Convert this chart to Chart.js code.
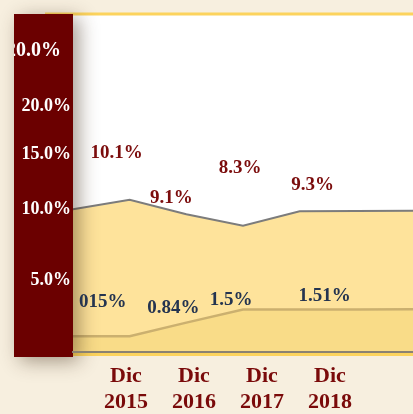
<!DOCTYPE html>
<html>
<head>
<meta charset="utf-8">
<script src="https://cdn.jsdelivr.net/npm/chart.js@4.4.1/dist/chart.umd.min.js"></script>
<style>
  html, body { margin: 0; padding: 0; background: #f7efdf; overflow: hidden; }
  canvas { display: block; }
</style>
</head>
<body>
<canvas id="rateChart" width="413" height="414"></canvas>
<script>
// point slots along the lines (first one is the lead-in, last two the tail)
const periods = ['', 'Dic 2015', 'Dic 2016', 'Dic 2017', 'Dic 2018', '', ''];
const mainRate = [9.45, 10.1, 9.1, 8.3, 9.3, 9.32, 9.35];
const minorRate = [0.15, 0.15, 0.84, 1.5, 1.51, 1.51, 1.52];
const mainText = ['', '10.1%', '9.1%', '8.3%', '9.3%', '', ''];
const minorText = ['', '015%', '0.84%', '1.5%', '1.51%', '', ''];

// axis labels
const xTickLabels = ['', ['Dic', '2015'], ['Dic', '2016'], ['Dic', '2017'], ['Dic', '2018'], ''];
const yTickValues = [4.5, 9.45, 13.25, 16.6, 20.5];
const yTickLabels = ['5.0%', '10.0%', '15.0%', '20.0%', '20.0%'];

// label nudges from their point (px)
const mainTagShift = [null, [-13, -47], [-15, -16], [-3, -58], [13, -26], null, null];
const minorTagShift = [null, [-27, -34], [-13, -15], [-12, -9], [25, -13], null, null];

const SERIF = '"Liberation Serif", "Times New Roman", serif';
Chart.defaults.font.family = SERIF;

const plotBackdrop = {
    id: 'plotBackdrop',
    beforeDraw(chart) {
        const { ctx, chartArea: a } = chart;
        const x0 = a.left - 28;
        ctx.save();
        ctx.fillStyle = '#ffffff';
        ctx.fillRect(x0, a.top, a.right - x0, a.bottom - a.top);
        ctx.strokeStyle = '#fcd35d';
        ctx.lineWidth = 3;
        ctx.beginPath();
        ctx.moveTo(x0, a.top); ctx.lineTo(a.right, a.top);
        ctx.moveTo(x0, a.bottom + 2.5); ctx.lineTo(a.right, a.bottom + 2.5);
        ctx.stroke();
        ctx.restore();
    }
};

const axisPanel = {
    id: 'axisPanel',
    afterDatasetsDraw(chart) {
        const { ctx, chartArea: a, scales: { y } } = chart;
        ctx.save();
        ctx.shadowColor = 'rgba(60,40,20,0.45)';
        ctx.shadowBlur = 18;
        ctx.shadowOffsetX = 6;
        ctx.shadowOffsetY = 4;
        ctx.fillStyle = '#6b0000';
        ctx.fillRect(y.left, a.top, y.width, a.bottom - a.top + 5);
        ctx.restore();
    }
};

const valueTags = {
    id: 'valueTags',
    afterDatasetsDraw(chart) {
        const { ctx } = chart;
        ctx.save();
        ctx.font = 'bold 19px ' + SERIF;
        ctx.textAlign = 'center';
        ctx.textBaseline = 'middle';
        chart.data.datasets.forEach((ds, i) => {
            const meta = chart.getDatasetMeta(i);
            ds.tags.forEach((t, j) => {
                if (!t) return;
                const p = meta.data[j];
                const [dx, dy] = ds.tagShift[j];
                ctx.fillStyle = ds.tagColor;
                ctx.fillText(t, p.x + dx, p.y + dy);
            });
        });
        ctx.restore();
    }
};

new Chart(document.getElementById('rateChart').getContext('2d'), {
    type: 'line',
    data: {
        labels: periods,
        datasets: [
            {
                data: mainRate,
                yAxisID: 'y',
                borderColor: '#7c7c7c',
                borderWidth: 2,
                backgroundColor: '#fee39b',
                fill: 'start',
                pointRadius: 0,
                tension: 0,
                order: 2,
                tags: mainText, tagShift: mainTagShift, tagColor: '#7b0c0c'
            },
            {
                data: minorRate,
                yAxisID: 'y2',
                borderColor: '#cbb06f',
                borderWidth: 2.5,
                backgroundColor: '#f9dc88',
                fill: 'start',
                pointRadius: 0,
                tension: 0,
                order: 1,
                tags: minorText, tagShift: minorTagShift, tagColor: '#243450'
            }
        ]
    },
    options: {
        responsive: false,
        animation: false,
        layout: { padding: { left: 14, top: 12, right: 0, bottom: 0 } },
        plugins: { legend: { display: false }, tooltip: { enabled: false } },
        scales: {
            x: { type: 'category', display: false },
            x2: {
                type: 'category',
                position: 'bottom',
                labels: xTickLabels,
                offset: false,
                afterFit: s => { s.height = 62; s.paddingLeft = 0; s.paddingRight = 0; },
                grid: { display: false, drawTicks: false },
                border: { display: true, color: '#8a8272', width: 2, z: 1 },
                ticks: {
                    autoSkip: false, maxRotation: 0, padding: 11, labelOffset: -15,
                    color: '#7a0a0a',
                    font: { size: 22, weight: 'bold', lineHeight: '26px' }
                }
            },
            y: {
                position: 'left',
                min: -0.5, max: 23.05,
                afterFit: s => { s.width = 59; },
                afterBuildTicks: s => { s.ticks = yTickValues.map(v => ({ value: v })); },
                grid: { display: false, drawTicks: false },
                border: { display: false },
                ticks: {
                    z: 1,
                    padding: 2,
                    color: '#ffffff',
                    font: c => ({ size: c.index === yTickLabels.length - 1 ? 20 : 18, weight: 'bold' }),
                    // top label sits further left in the original
                    callback: (v, i) => yTickLabels[i] + (i === yTickLabels.length - 1 ? '\u00a0\u00a0' : '')
                }
            },
            y2: { display: false, min: -0.65, max: 16.48 }
        }
    },
    plugins: [plotBackdrop, axisPanel, valueTags]
});
</script>
</body>
</html>
